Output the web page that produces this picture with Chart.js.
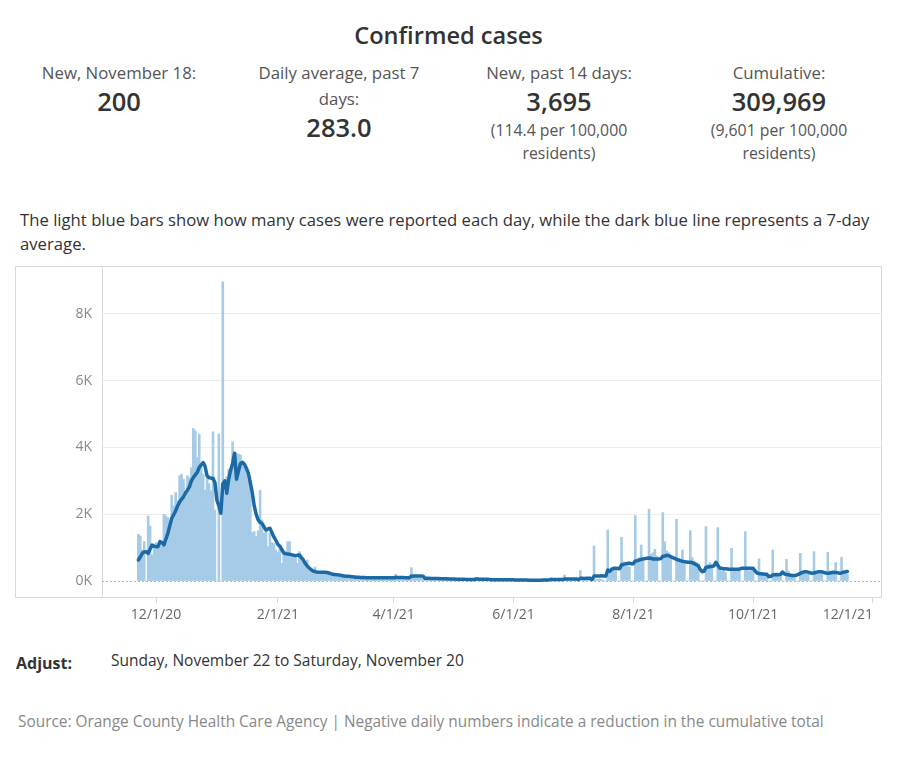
<!DOCTYPE html>
<html>
<head>
<meta charset="utf-8">
<script src="https://cdn.jsdelivr.net/npm/chart.js@4"></script>
<style>
  body { margin:0; width:897px; height:768px; background:#fff; font-family:'Open Sans', sans-serif; color:#333; position:relative; overflow:hidden; }
  .abs { position:absolute; }
  #title { top:19px; left:0; width:897px; text-align:center; font-size:23.6px; font-weight:600; line-height:32px; }
  .kpi { top:60px; width:220px; text-align:center; }
  .kpi .lbl { font-size:16.8px; line-height:26px; color:#555; }
  .kpi .val { font-size:25.5px; font-weight:600; line-height:30px; color:#333; }
  .kpi .sub { font-size:15.8px; line-height:23px; color:#555; margin-top:3px; }
  #desc { top:208px; left:20px; font-size:16.7px; line-height:24px; white-space:nowrap; }
  #frame { left:15px; top:266px; width:867px; height:332px; box-sizing:border-box; border:1px solid #d9d9d9; }
  #chartBox { left:15px; top:267px; width:866px; height:373px; }
  #adjustLbl { top:651px; left:16px; font-size:16px; font-weight:700; line-height:24px; }
  #adjustVal { top:648px; left:111px; font-size:15.5px; line-height:24px; }
  #source { top:710px; left:18px; font-size:15.4px; line-height:24px; color:#888; white-space:nowrap; }
</style>
</head>
<body>
<div id="title" class="abs">Confirmed cases</div>

<div class="abs kpi" style="left:9px">
  <div class="lbl">New, November 18:</div>
  <div class="val">200</div>
</div>
<div class="abs kpi" style="left:229px">
  <div class="lbl">Daily average, past 7<br>days:</div>
  <div class="val">283.0</div>
</div>
<div class="abs kpi" style="left:449px">
  <div class="lbl">New, past 14 days:</div>
  <div class="val">3,695</div>
  <div class="sub">(114.4 per 100,000<br>residents)</div>
</div>
<div class="abs kpi" style="left:669px">
  <div class="lbl">Cumulative:</div>
  <div class="val">309,969</div>
  <div class="sub">(9,601 per 100,000<br>residents)</div>
</div>

<div id="desc" class="abs">The light blue bars show how many cases were reported each day, while the dark blue line represents a 7-day<br>average.</div>

<div id="frame" class="abs"></div>
<div id="chartBox" class="abs"><canvas id="casesChart" width="866" height="373"></canvas></div>

<div id="adjustLbl" class="abs">Adjust:</div>
<div id="adjustVal" class="abs">Sunday, November 22 to Saturday, November 20</div>
<div id="source" class="abs">Source: Orange County Health Care Agency | Negative daily numbers indicate a reduction in the cumulative total</div>

<script>
// daily new cases, one array per month (first day: Nov 22, 2020)
const casesNov20 = [1400, 1350, 930, 1180, 0, 1950, 1650, 780, 1100];
const casesDec20 = [1150, 1100, 1200, 1050, 2000, 1950, 1900, 1750, 2570, 2250, 2650, 2400, 3150, 3200, 3050, 2500, 3150, 3100, 3400, 4570, 4500, 3700, 4400, 3400, 3200, 2720, 3080, 2920, 2700, 4470, 2130];
const casesJan21 = [0, 4400, 0, 8960, 2650, 3120, 3350, 3300, 4170, 3370, 3820, 3800, 3780, 3520, 3400, 3350, 3020, 2800, 1450, 1480, 1330, 1500, 2720, 1830, 1430, 1500, 1030, 1430, 1150, 1130, 930];
const casesFeb21 = [850, 1000, 530, 830, 900, 1180, 1180, 750, 700, 730, 530, 880, 650, 600, 480, 630, 330, 330, 300, 420, 250, 280, 230, 290, 260, 250, 210, 200];
const casesMar21 = [220, 180, 210, 150, 160, 140, 170, 130, 120, 150, 110, 100, 130, 90, 100, 120, 95, 90, 110, 100, 90, 105, 100, 95, 90, 105, 100, 85, 95, 100, 90];
const casesApr21 = [95, 200, 90, 85, 100, 95, 90, 95, 100, 400, 110, 90, 95, 85, 80, 75, 70, 80, 65, 70, 75, 60, 65, 70, 55, 60, 65, 55, 50, 60];
const casesMay21 = [55, 50, 45, 55, 50, 40, 50, 45, 40, 50, 45, 40, 110, 45, 40, 35, 45, 40, 35, 40, 35, 45, 30, 40, 35, 30, 40, 35, 30, 35, 30];
const casesJun21 = [30, 35, 25, 30, 35, 25, 20, 30, 25, 20, 15, 10, 20, 25, 30, 35, 30, 40, 35, 100, 35, 40, 30, 45, 40, 35, 180, 40, 45, 35];
const casesJul21 = [40, 45, 35, 40, 310, 45, 30, 40, 50, 45, 60, 1050, 40, 50, 60, 40, 0, 0, 1530, 250, 400, 380, 320, 0, 0, 1310, 580, 560, 500, 420, 0];
const casesAug21 = [0, 1960, 650, 700, 1080, 600, 0, 0, 2150, 800, 850, 950, 750, 0, 0, 2050, 1180, 900, 850, 700, 0, 0, 1850, 650, 600, 930, 500, 0, 0, 1510, 700];
const casesSep21 = [600, 550, 500, 0, 0, 0, 1630, 500, 550, 480, 0, 0, 1600, 350, 300, 300, 250, 0, 0, 980, 350, 300, 380, 300, 0, 0, 1480, 350, 300, 380];
const casesOct21 = [300, 0, 0, 660, 250, 220, 200, 180, 0, 0, 930, 200, 250, 200, 180, 0, 0, 650, 300, 200, 150, 150, 0, 0, 830, 250, 300, 280, 250, 0, 0];
const casesNov21 = [880, 250, 280, 300, 250, 0, 0, 860, 300, 280, 200, 550, 0, 0, 710, 250, 280, 200];

// 7-day average, same days
const avgNov20 = [630, 720, 830, 870, 880, 830, 960, 1080, 1040];
const avgDec20 = [1030, 1030, 1180, 1150, 1080, 1250, 1420, 1650, 1880, 1990, 2100, 2250, 2370, 2450, 2520, 2640, 2720, 2820, 3000, 3100, 3180, 3260, 3400, 3480, 3550, 3430, 3150, 3100, 3080, 3080, 2950];
const avgJan21 = [2420, 2250, 2030, 2900, 3000, 2630, 3050, 3320, 3530, 3830, 3050, 3300, 3520, 3560, 3500, 3380, 3230, 2950, 2650, 2250, 2000, 1830, 1760, 1720, 1620, 1530, 1560, 1580, 1450, 1320, 1220];
const avgFeb21 = [1100, 1050, 950, 840, 820, 810, 800, 790, 770, 760, 770, 780, 700, 630, 520, 450, 390, 340, 300, 280, 270, 265, 260, 260, 260, 255, 240, 220];
const avgMar21 = [200, 195, 190, 180, 170, 160, 150, 145, 140, 135, 128, 122, 116, 112, 108, 105, 103, 101, 100, 100, 99, 98, 98, 97, 97, 96, 96, 95, 95, 95, 96];
const avgApr21 = [97, 110, 108, 106, 104, 102, 101, 100, 100, 145, 148, 150, 150, 150, 148, 145, 85, 82, 80, 78, 76, 75, 73, 72, 70, 68, 66, 65, 63, 62];
const avgMay21 = [60, 58, 56, 55, 53, 52, 50, 49, 48, 47, 46, 45, 58, 57, 56, 55, 54, 53, 52, 42, 41, 40, 40, 39, 38, 38, 37, 37, 36, 36, 35];
const avgJun21 = [35, 34, 33, 32, 31, 30, 29, 28, 26, 24, 22, 20, 20, 22, 25, 28, 30, 32, 34, 42, 42, 43, 43, 43, 44, 44, 60, 60, 60, 61];
const avgJul21 = [61, 62, 62, 40, 80, 80, 79, 80, 82, 82, 45, 150, 150, 152, 153, 155, 150, 148, 330, 290, 350, 380, 380, 375, 370, 480, 500, 515, 530, 530, 520];
const avgAug21 = [520, 600, 610, 630, 650, 660, 670, 680, 690, 680, 660, 660, 660, 660, 670, 740, 750, 770, 760, 730, 700, 680, 650, 630, 610, 590, 580, 570, 560, 560, 550];
const avgSep21 = [520, 490, 460, 350, 280, 290, 410, 420, 430, 440, 450, 560, 470, 390, 380, 370, 365, 360, 355, 350, 350, 350, 350, 355, 380, 380, 380, 380, 380, 380];
const avgOct21 = [380, 300, 240, 220, 215, 210, 205, 200, 130, 140, 180, 185, 185, 190, 200, 270, 210, 195, 185, 175, 165, 165, 175, 200, 230, 260, 275, 280, 265, 245, 235];
const avgNov21 = [240, 260, 275, 280, 275, 260, 240, 235, 240, 255, 260, 255, 245, 235, 240, 265, 275, 283];

// x axis = days since 12/1/20
const firstDay = -9;
const tickDays = [0, 62, 121, 182, 243, 304, 365];
const tickLabels = ['12/1/20', '2/1/21', '4/1/21', '6/1/21', '8/1/21', '10/1/21', '12/1/21'];
const yTicks = [0, 2000, 4000, 6000, 8000];

const dailyCases = [].concat(casesNov20, casesDec20, casesJan21, casesFeb21, casesMar21, casesApr21,
  casesMay21, casesJun21, casesJul21, casesAug21, casesSep21, casesOct21, casesNov21);
const weekAvg = [].concat(avgNov20, avgDec20, avgJan21, avgFeb21, avgMar21, avgApr21,
  avgMay21, avgJun21, avgJul21, avgAug21, avgSep21, avgOct21, avgNov21);

const casePoints = dailyCases.map((v, i) => ({ x: firstDay + i, y: v }));
const avgPoints = weekAvg.map((v, i) => ({ x: firstDay + i, y: v }));

// dotted zero line
const zeroLine = {
  id: 'zeroLine',
  beforeDatasetsDraw(chart) {
    const { ctx, chartArea, scales } = chart;
    const y = Math.round(scales.y.getPixelForValue(0)) + 0.5;
    ctx.save();
    ctx.strokeStyle = '#b8b8b8';
    ctx.lineWidth = 1;
    ctx.setLineDash([2, 2]);
    ctx.beginPath();
    ctx.moveTo(chartArea.left, y);
    ctx.lineTo(chartArea.right, y);
    ctx.stroke();
    ctx.restore();
  }
};

new Chart(document.getElementById('casesChart'), {
  type: 'bar',
  data: {
    datasets: [
      {
        type: 'line', label: '7-day average', data: avgPoints,
        borderColor: '#1c6aa5', borderWidth: 3.5, pointRadius: 0, tension: 0,
        borderJoinStyle: 'round', borderCapStyle: 'round', order: 0
      },
      {
        type: 'bar', label: 'Daily cases', data: casePoints,
        backgroundColor: '#a6cbe7', barPercentage: 1, categoryPercentage: 1, order: 1
      }
    ]
  },
  options: {
    responsive: false,
    animation: false,
    devicePixelRatio: 1,
    layout: { padding: 0 },
    plugins: { legend: { display: false }, tooltip: { enabled: false } },
    scales: {
      x: {
        type: 'linear', min: -27.5, max: 369.1, offset: false,
        grid: {
          offset: false, drawOnChartArea: false, drawTicks: true, tickLength: 6,
          color: c => c.index === 0 ? 'rgba(0,0,0,0)' : '#d9d9d9'
        },
        border: { display: false },
        ticks: {
          align: 'inner', autoSkip: false, maxRotation: 0, minRotation: 0, padding: 4,
          color: '#666', font: { family: 'Open Sans', size: 14 },
          callback: v => { const k = tickDays.indexOf(v); return k < 0 ? '' : tickLabels[k]; }
        },
        afterBuildTicks: s => { s.ticks = [{ value: -27.5 }].concat(tickDays.map(v => ({ value: v }))); },
        afterFit: s => { s.height = 43; s.paddingLeft = 0; s.paddingRight = 0; }
      },
      y: {
        min: -479, max: 9408,
        grid: { drawTicks: false, color: c => (c.tick && c.tick.value === 0) ? 'rgba(0,0,0,0)' : '#ececec' },
        border: { display: true, color: '#d9d9d9' },
        ticks: {
          padding: 10, color: '#888', font: { family: 'Open Sans', size: 14 },
          callback: v => (v / 1000) + 'K'
        },
        afterBuildTicks: s => { s.ticks = yTicks.map(v => ({ value: v })); },
        afterFit: s => { s.width = 87; s.paddingTop = 0; s.paddingBottom = 0; }
      }
    }
  },
  plugins: [zeroLine]
});
</script>
</body>
</html>
